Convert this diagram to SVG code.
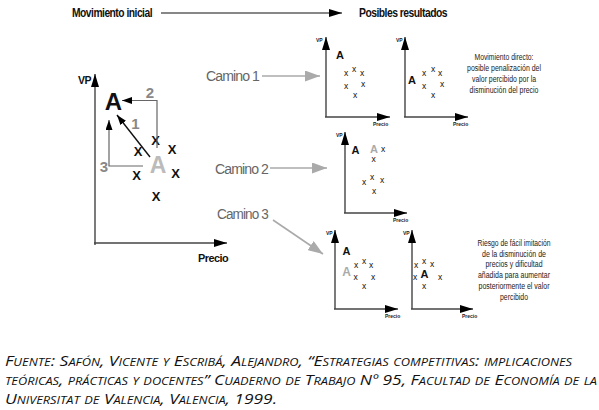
<svg xmlns="http://www.w3.org/2000/svg" width="599" height="410" viewBox="0 0 599 410">
<style>
text{font-family:"Liberation Sans",Arial,sans-serif}
.hd{font-size:12px;font-weight:bold;fill:#111;letter-spacing:-0.6px}
.ax{stroke:#444;stroke-width:1.4;fill:none}
.lbl{font-size:10px;font-weight:bold;fill:#111;letter-spacing:-0.5px}
.bigA{font-size:24px;font-weight:bold;fill:#111;text-anchor:middle}
.grA{font-size:23px;font-weight:bold;fill:#bbb;text-anchor:middle}
.X{font-size:13px;font-weight:bold;fill:#111;text-anchor:middle}
.num{font-size:15px;font-weight:bold;fill:#888;text-anchor:middle}
.cam{font-size:15.5px;fill:#666;letter-spacing:-1px}
.sA{font-size:11px;font-weight:bold;fill:#111;text-anchor:middle}
.sAg{font-size:11px;font-weight:bold;fill:#aaa;text-anchor:middle}
.sx{font-size:8.5px;fill:#111;text-anchor:middle}
.tiny{font-size:5px;font-weight:bold;fill:#222}
.note{font-size:8.5px;fill:#222;text-anchor:middle}
.foot{font-family:"Open Sans","DejaVu Sans",sans-serif;font-style:italic;font-variant:small-caps;font-size:15px;fill:#111}
.cl{stroke:#aaa;stroke-width:1.6;fill:none}
</style>
<defs>
<marker id="ah" markerUnits="userSpaceOnUse" markerWidth="13" markerHeight="8" refX="13" refY="4" orient="auto"><path d="M0,0 L13,4 L0,8 z" fill="#000"/></marker>
<marker id="ahs" markerUnits="userSpaceOnUse" markerWidth="10" markerHeight="7" refX="10" refY="3.5" orient="auto"><path d="M0,0 L10,3.5 L0,7 z" fill="#000"/></marker>
<marker id="ahg" markerUnits="userSpaceOnUse" markerWidth="15" markerHeight="11" refX="15" refY="5.5" orient="auto"><path d="M0,0 L15,5.5 L0,11 z" fill="#aaa"/></marker>
</defs>

<g id="header">
<text class="hd" x="72" y="17" textLength="80" lengthAdjust="spacingAndGlyphs">Movimiento inicial</text>
<text class="hd" x="359" y="17" textLength="88" lengthAdjust="spacingAndGlyphs">Posibles resultados</text>
</g>

<g id="main-chart">
<line class="ax" x1="95" y1="245" x2="95" y2="74" marker-end="url(#ah)"/>
<line class="ax" x1="94" y1="243" x2="227" y2="243" marker-end="url(#ah)"/>
<text class="lbl" x="78" y="84" textLength="13" lengthAdjust="spacingAndGlyphs">VP</text>
<text class="lbl" x="198" y="262" textLength="30" lengthAdjust="spacingAndGlyphs">Precio</text>
<text class="bigA" x="113.5" y="110">A</text>
<text class="grA" x="158" y="173">A</text>
<text class="X" x="155.5" y="144.5">X</text>
<text class="X" x="138" y="156">X</text>
<text class="X" x="172" y="154">X</text>
<text class="X" x="136.5" y="180">X</text>
<text class="X" x="175.5" y="177.5">X</text>
<text class="X" x="156" y="200.5">X</text>
<polyline points="157,148 157,100.5 122,100.5" fill="none" stroke="#666" stroke-width="1.2" marker-end="url(#ahs)"/>
<line x1="150" y1="157" x2="117" y2="115" stroke="#111" stroke-width="1.4" marker-end="url(#ahs)"/>
<polyline points="143,166 109,166 109,120" fill="none" stroke="#666" stroke-width="1.2" marker-end="url(#ahs)"/>
<text class="num" x="150" y="98">2</text>
<text class="num" x="135.5" y="129">1</text>
<text class="num" x="104" y="172">3</text>
</g>

<g id="camino1"><text class="cam" x="206" y="81" textLength="53" lengthAdjust="spacingAndGlyphs">Camino 1</text></g>
<g id="camino2"><text class="cam" x="215" y="174" textLength="53" lengthAdjust="spacingAndGlyphs">Camino 2</text></g>
<g id="camino3"><text class="cam" x="217" y="219" textLength="51" lengthAdjust="spacingAndGlyphs">Camino 3</text></g>

<g id="connectors">
<line x1="161" y1="13" x2="342" y2="13" stroke="#111" stroke-width="1.2" marker-end="url(#ah)"/>
<line class="cl" x1="262" y1="76" x2="320" y2="76" marker-end="url(#ahg)"/>
<line class="cl" x1="270" y1="168" x2="327" y2="168" marker-end="url(#ahg)"/>
<line class="cl" x1="273" y1="220" x2="323" y2="254" marker-end="url(#ahg)"/>
</g>

<g id="chart-1a">
<line class="ax" x1="326" y1="117" x2="326" y2="37" marker-end="url(#ah)"/>
<line class="ax" x1="325" y1="117" x2="390" y2="117" marker-end="url(#ah)"/>
<text class="tiny" x="316" y="42">VP</text>
<text class="tiny" x="373" y="126">Precio</text>
<text class="sA" x="340" y="58.5">A</text>
<text class="sx" x="346" y="75.5">x</text><text class="sx" x="354" y="71.5">x</text><text class="sx" x="362" y="75.5">x</text>
<text class="sx" x="346" y="89">x</text><text class="sx" x="363" y="87">x</text><text class="sx" x="355" y="97.5">x</text>
</g>

<g id="chart-1b">
<line class="ax" x1="405" y1="117" x2="405" y2="37" marker-end="url(#ah)"/>
<line class="ax" x1="404" y1="117" x2="468" y2="117" marker-end="url(#ah)"/>
<text class="tiny" x="396" y="42">VP</text>
<text class="tiny" x="453" y="126">Precio</text>
<text class="sA" x="412" y="83.5">A</text>
<text class="sx" x="424" y="75.5">x</text><text class="sx" x="433" y="71.5">x</text><text class="sx" x="440" y="75.5">x</text>
<text class="sx" x="424" y="89">x</text><text class="sx" x="442" y="87">x</text><text class="sx" x="433" y="97.5">x</text>
</g>

<g id="note-1">
<text class="note" x="504" y="60" textLength="59" lengthAdjust="spacingAndGlyphs">Movimiento directo:</text>
<text class="note" x="504" y="70.5" textLength="74" lengthAdjust="spacingAndGlyphs">posible penalización del</text>
<text class="note" x="504" y="81.5" textLength="64" lengthAdjust="spacingAndGlyphs">valor percibido por la</text>
<text class="note" x="504" y="92.5" textLength="69" lengthAdjust="spacingAndGlyphs">disminución del precio</text>
</g>

<g id="chart-2">
<line class="ax" x1="345" y1="213" x2="345" y2="132" marker-end="url(#ah)"/>
<line class="ax" x1="344" y1="213" x2="407" y2="213" marker-end="url(#ah)"/>
<text class="tiny" x="336" y="137">VP</text>
<text class="tiny" x="393" y="222">Precio</text>
<text class="sA" x="355.5" y="153.5">A</text>
<text class="sAg" x="374" y="153">A</text>
<text class="sx" x="383" y="151.5">x</text><text class="sx" x="373.5" y="162">x</text><text class="sx" x="372" y="179.5">x</text>
<text class="sx" x="364" y="184.5">x</text><text class="sx" x="382" y="182.5">x</text><text class="sx" x="374" y="193.5">x</text>
</g>

<g id="chart-3a">
<line class="ax" x1="335" y1="309" x2="335" y2="230" marker-end="url(#ah)"/>
<line class="ax" x1="334" y1="309" x2="398" y2="309" marker-end="url(#ah)"/>
<text class="tiny" x="326" y="235">VP</text>
<text class="tiny" x="385" y="318">Precio</text>
<text class="sA" x="346.5" y="254.5">A</text>
<text class="sAg" x="346.5" y="275.5" style="font-size:12px">A</text>
<text class="sx" x="356" y="268">x</text><text class="sx" x="364" y="263.5">x</text><text class="sx" x="371" y="267.5">x</text>
<text class="sx" x="355.5" y="279.5">x</text><text class="sx" x="373" y="280">x</text><text class="sx" x="364" y="288.5">x</text>
</g>

<g id="chart-3b">
<line class="ax" x1="412" y1="309" x2="412" y2="230" marker-end="url(#ah)"/>
<line class="ax" x1="411" y1="309" x2="473" y2="309" marker-end="url(#ah)"/>
<text class="tiny" x="403" y="235">VP</text>
<text class="tiny" x="462" y="318">Precio</text>
<text class="sA" x="424.5" y="277.5">A</text>
<text class="sx" x="416" y="268">x</text><text class="sx" x="424" y="263.5">x</text><text class="sx" x="432" y="266.5">x</text>
<text class="sx" x="415" y="279.5">x</text><text class="sx" x="440" y="279.5">x</text><text class="sx" x="424" y="288.5">x</text>
</g>

<g id="note-2">
<text class="note" x="514" y="245.5" textLength="73" lengthAdjust="spacingAndGlyphs">Riesgo de fácil imitación</text>
<text class="note" x="514" y="256.5" textLength="64" lengthAdjust="spacingAndGlyphs">de la disminución de</text>
<text class="note" x="514" y="267" textLength="57" lengthAdjust="spacingAndGlyphs">precios y dificultad</text>
<text class="note" x="514" y="277.5" textLength="72" lengthAdjust="spacingAndGlyphs">añadida para aumentar</text>
<text class="note" x="514" y="288.5" textLength="71" lengthAdjust="spacingAndGlyphs">posteriormente el valor</text>
<text class="note" x="514" y="299.5" textLength="28" lengthAdjust="spacingAndGlyphs">percibido</text>
</g>

<g id="footer">
<text class="foot" x="5" y="366" textLength="567" lengthAdjust="spacingAndGlyphs">Fuente: Safón, Vicente y Escribá, Alejandro, “Estrategias competitivas: implicaciones</text>
<text class="foot" x="5" y="385" textLength="592" lengthAdjust="spacingAndGlyphs">teóricas, prácticas y docentes” Cuaderno de Trabajo Nº 95, Facultad de Economía de la</text>
<text class="foot" x="5" y="404" textLength="272" lengthAdjust="spacingAndGlyphs">Universitat de Valencia, Valencia, 1999.</text>
</g>
</svg>
